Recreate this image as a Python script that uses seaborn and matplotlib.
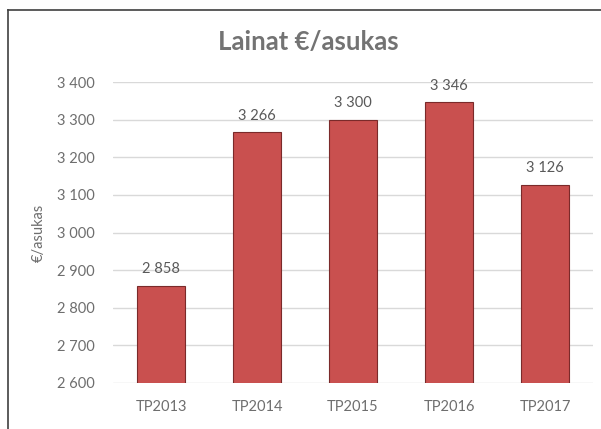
import numpy as np
import pandas as pd
import matplotlib.pyplot as plt
import seaborn as sns

years = ['TP2013', 'TP2014', 'TP2015', 'TP2016', 'TP2017']
loans = [2858, 3266, 3300, 3346, 3126]
labels = ['2 858', '3 266', '3 300', '3 346', '3 126']
yticks = [2600, 2700, 2800, 2900, 3000, 3100, 3200, 3300, 3400]

df = pd.DataFrame({'year': years, 'loans': loans})

sns.set_style('white')
plt.rcParams['font.family'] = ['Lato', 'DejaVu Sans']
txt = '#6E6E6E'

fig = plt.figure(figsize=(6.01, 4.29), dpi=100)

# outer chart frame: only its top and left edges fall inside the picture
top = 1 - 10 / 429
frame = fig.add_axes([8 / 601, 0, 1 - 8 / 601, top], zorder=-1)
frame.set_facecolor('none')
frame.set_xticks([])
frame.set_yticks([])
for side in ['right', 'bottom']:
    frame.spines[side].set_visible(False)
for side in ['left', 'top']:
    frame.spines[side].set_visible(True)
    frame.spines[side].set_color('#404040')
    frame.spines[side].set_linewidth(1.2)

ax = fig.add_axes([113 / 601, 46 / 429, 480 / 601, 301 / 429])

sns.barplot(data=df, x='year', y='loans', color='#C9504F', saturation=1,
            width=0.5, edgecolor='#7A2A2A', linewidth=0.8, ax=ax, zorder=3)

ax.set_ylim(2600, 3400)
ax.set_xlim(-0.5, 4.5)
ax.set_yticks(yticks)
ax.set_yticklabels([f'{v:,}'.replace(',', ' ') for v in yticks])
ax.yaxis.grid(True, color='#D9D9D9', lw=1, zorder=0)
ax.set_axisbelow(True)
for s in ax.spines.values():
    s.set_visible(False)
ax.tick_params(axis='y', length=0, pad=13, labelsize=10.5, labelcolor=txt)
ax.tick_params(axis='x', length=0, pad=12, labelsize=10.5, labelcolor=txt)
ax.set_xlabel('')
ax.set_ylabel('€/asukas', fontsize=10.5, color=txt)
ax.yaxis.set_label_coords(-0.14, 0.5)

for i, (v, lab) in enumerate(zip(loans, labels)):
    ax.annotate(lab, (i, v), xytext=(0, 7), textcoords='offset points',
                ha='center', va='bottom', fontsize=10.5, color='#595959')

fig.text(308 / 601, 1 - 42 / 429, 'Lainat €/asukas', ha='center', va='center',
         fontsize=18.5, fontweight='bold', color='#737373')

fig.savefig('out.png', dpi=100)
